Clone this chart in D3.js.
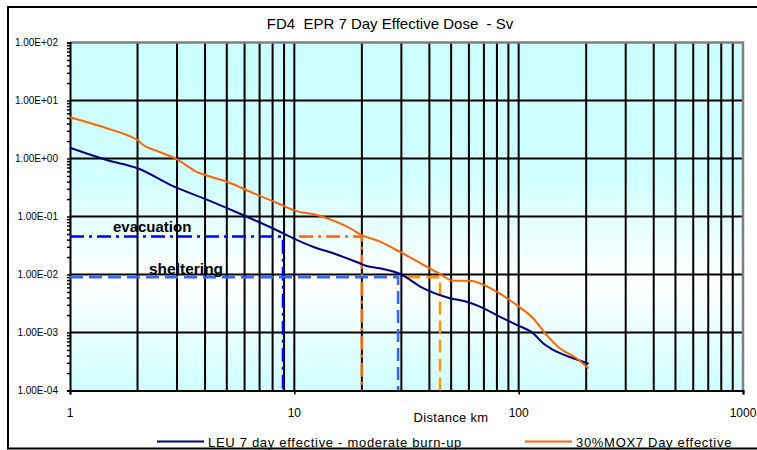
<!DOCTYPE html>
<html>
<head>
<meta charset="utf-8">
<script src="https://cdnjs.cloudflare.com/ajax/libs/d3/7.8.5/d3.min.js"></script>
<style>
  body { margin: 0; background: #fff; }
  text { font-family: Arial, "Liberation Sans", sans-serif; fill: #000; white-space: pre; }
</style>
</head>
<body>
<div class="chart"></div>
<script>
// Set Parms
var svgWidth = 757;
var svgHeight = 450;

// data (distance km, dose Sv)
var leuDist = [1, 1.46, 2, 2.9, 4.1, 5.9, 8.3, 9.9, 12.1, 14.9, 19.6, 21, 24.1, 29.5, 37.5, 49.3, 58.6, 67.2, 79.7, 97.9, 116, 128.6, 142.5, 175, 205];
var leuDose = [1.53, 0.94, 0.68, 0.33, 0.193, 0.106, 0.0585, 0.042, 0.0301, 0.0232, 0.0156, 0.014, 0.0128, 0.0103, 0.0058, 0.0039, 0.0034, 0.0028, 0.002, 0.00135, 0.00097, 0.00065, 0.0005, 0.00036, 0.00029];
var moxDist = [1, 1.46, 1.79, 2, 2.12, 2.43, 3, 3.67, 4.1, 5, 6.6, 8.6, 9.9, 12.6, 18.3, 19.6, 24.1, 29.5, 44.6, 51.1, 60.6, 79.7, 97.9, 116, 133, 152.6, 181, 205];
var moxDose = [5.13, 3.32, 2.54, 2.08, 1.71, 1.36, 0.97, 0.59, 0.505, 0.398, 0.251, 0.164, 0.129, 0.106, 0.0585, 0.0499, 0.0368, 0.0247, 0.0102, 0.0078, 0.0078, 0.00505, 0.00298, 0.00176, 0.00091, 0.000535, 0.00036, 0.00024];

// evacuation / sheltering levels and the distances they are reached
var evacLevel = 0.045;
var shelterLevel = 0.009;
var evacDist = [8.9, 20];     // LEU, MOX
var shelterDist = [29, 44.6];  // LEU, MOX

var yTickLabels = ["1.00E-04", "1.00E-03", "1.00E-02", "1.00E-01", "1.00E+00", "1.00E+01", "1.00E+02"];
var xTickLabels = ["1", "10", "100", "1000"];
var seriesNames = ["LEU 7 day effective - moderate burn-up", "30%MOX7 Day effective"];

var plotLeft = 70, plotRight = 743, plotTop = 42.5, plotBottom = 390.5;

var svg = d3.select(".chart")
  .append("svg")
  .attr("width", svgWidth)
  .attr("height", svgHeight);

var x = d3.scaleLog().domain([1, 1000]).range([plotLeft, plotRight]);
var y = d3.scaleLog().domain([1e-4, 1e2]).range([plotBottom, plotTop]);

// background gradient
var grad = svg.append("defs").append("linearGradient")
  .attr("id", "bg").attr("x1", 0).attr("y1", 0).attr("x2", 0).attr("y2", 1);
grad.append("stop").attr("offset", "0").attr("stop-color", "#ccffff");
grad.append("stop").attr("offset", "0.4").attr("stop-color", "#d2ffff");
grad.append("stop").attr("offset", "0.68").attr("stop-color", "#ffffff");
grad.append("stop").attr("offset", "1").attr("stop-color", "#d0ffff");

// outer frame
svg.append("rect")
  .attr("x", 8).attr("y", 7).attr("width", 800).attr("height", 441.5)
  .attr("fill", "#fff").attr("stroke", "#000").attr("stroke-width", 2);

svg.append("rect")
  .attr("x", plotLeft).attr("y", plotTop)
  .attr("width", plotRight - plotLeft).attr("height", plotBottom - plotTop)
  .attr("fill", "url(#bg)");

// grid lines
var xGrid = [];
[1, 10, 100].forEach(function(d) {
  for (var k = 2; k <= 9; k++) xGrid.push(d * k);
});
xGrid.push(10, 100);
svg.append("g").selectAll("line")
  .data(xGrid)
  .enter().append("line")
    .attr("x1", function(d) { return x(d); })
    .attr("x2", function(d) { return x(d); })
    .attr("y1", plotTop).attr("y2", plotBottom)
    .attr("stroke", "#000").attr("stroke-width", 2);

var yGrid = [1e-3, 1e-2, 1e-1, 1, 10];
svg.append("g").selectAll("line")
  .data(yGrid)
  .enter().append("line")
    .attr("x1", plotLeft).attr("x2", plotRight)
    .attr("y1", function(d) { return y(d); })
    .attr("y2", function(d) { return y(d); })
    .attr("stroke", "#000").attr("stroke-width", 2);

// plot area border (top, right)
svg.append("path")
  .attr("d", "M" + plotLeft + "," + plotTop + "H" + plotRight + "V" + plotBottom)
  .attr("fill", "none").attr("stroke", "#808080").attr("stroke-width", 2.5);

// axes
var yAxis = d3.axisLeft(y)
  .tickValues(y.ticks())
  .tickSize(3)
  .tickFormat("");
svg.append("g")
  .attr("transform", "translate(" + plotLeft + ",0)")
  .call(yAxis)
  .call(function(g) {
    g.select(".domain").attr("stroke-width", 2);
    g.selectAll(".tick line").attr("stroke-width", 1.5).attr("x2", 1).attr("x1", -3);
  });

svg.append("g").selectAll("text")
  .data(yTickLabels)
  .enter().append("text")
    .attr("x", 58)
    .attr("y", function(d, i) { return y(Math.pow(10, i - 4)) + 3.5; })
    .attr("text-anchor", "end")
    .style("font-size", "10px")
    .text(function(d) { return d; });

var xAxis = d3.axisBottom(x)
  .tickValues([1, 10, 100, 1000])
  .tickSize(4)
  .tickFormat("");
svg.append("g")
  .attr("transform", "translate(0," + plotBottom + ")")
  .call(xAxis)
  .call(function(g) {
    g.select(".domain").attr("stroke-width", 2);
    g.selectAll(".tick line").attr("stroke-width", 1.5);
  });

svg.append("g").selectAll("text")
  .data(xTickLabels)
  .enter().append("text")
    .attr("x", function(d) { return x(+d); })
    .attr("y", 416.5)
    .attr("text-anchor", "middle")
    .style("font-size", "12px")
    .text(function(d) { return d; });

// evacuation / sheltering guides
function guide(d1, d0, level, color, dash) {
  svg.append("path")
    .attr("d", "M" + x(d0) + "," + y(level) + "H" + x(d1) + "V" + plotBottom)
    .attr("fill", "none")
    .attr("stroke", color)
    .attr("stroke-width", 2.5)
    .attr("stroke-dasharray", dash);
}
guide(evacDist[0], 1, evacLevel, "#0000ff", "14,5,3,5");
guide(evacDist[1], evacDist[0] * 1.18, evacLevel, "#ff6600", "14,5,3,5");
guide(shelterDist[0], 1, shelterLevel, "#3366ff", "13,6");
guide(shelterDist[1], shelterDist[0] * 1.1, shelterLevel, "#ff9900", "13,6");

svg.append("text")
  .attr("x", 113).attr("y", 231.5)
  .style("font-size", "15px").style("font-weight", "bold")
  .text("evacuation");
svg.append("text")
  .attr("x", 149).attr("y", 274)
  .style("font-size", "15.5px").style("font-weight", "bold")
  .text("sheltering");

// series lines
var line = d3.line()
  .x(function(d) { return x(d[0]); })
  .y(function(d) { return y(d[1]); })
  .curve(d3.curveMonotoneX);

svg.append("path")
  .datum(leuDist.map(function(d, i) { return [d, leuDose[i]]; }))
  .attr("d", line)
  .attr("fill", "none").attr("stroke", "#000080").attr("stroke-width", 2);

svg.append("path")
  .datum(moxDist.map(function(d, i) { return [d, moxDose[i]]; }))
  .attr("d", line)
  .attr("fill", "none").attr("stroke", "#ff6600").attr("stroke-width", 2);

// title and axis title
svg.append("text")
  .attr("x", 390).attr("y", 28.5)
  .attr("text-anchor", "middle")
  .style("font-size", "15px")
  .text("FD4  EPR 7 Day Effective Dose  - Sv");

svg.append("text")
  .attr("x", 451).attr("y", 422)
  .attr("text-anchor", "middle")
  .style("font-size", "13px")
  .style("letter-spacing", "0.3px")
  .text("Distance km");

// legend
var legendX = [157, 525];
var legendColor = ["#000080", "#ff6600"];
var legend = svg.append("g").selectAll("g")
  .data(seriesNames)
  .enter().append("g");
legend.append("line")
  .attr("x1", function(d, i) { return legendX[i]; })
  .attr("x2", function(d, i) { return legendX[i] + 47; })
  .attr("y1", 441.5).attr("y2", 441.5)
  .attr("stroke", function(d, i) { return legendColor[i]; })
  .attr("stroke-width", 2);
legend.append("text")
  .attr("x", function(d, i) { return legendX[i] + 51; })
  .attr("y", 447)
  .style("font-size", "13px")
  .style("letter-spacing", "0.7px")
  .text(function(d) { return d; });
</script>
</body>
</html>
